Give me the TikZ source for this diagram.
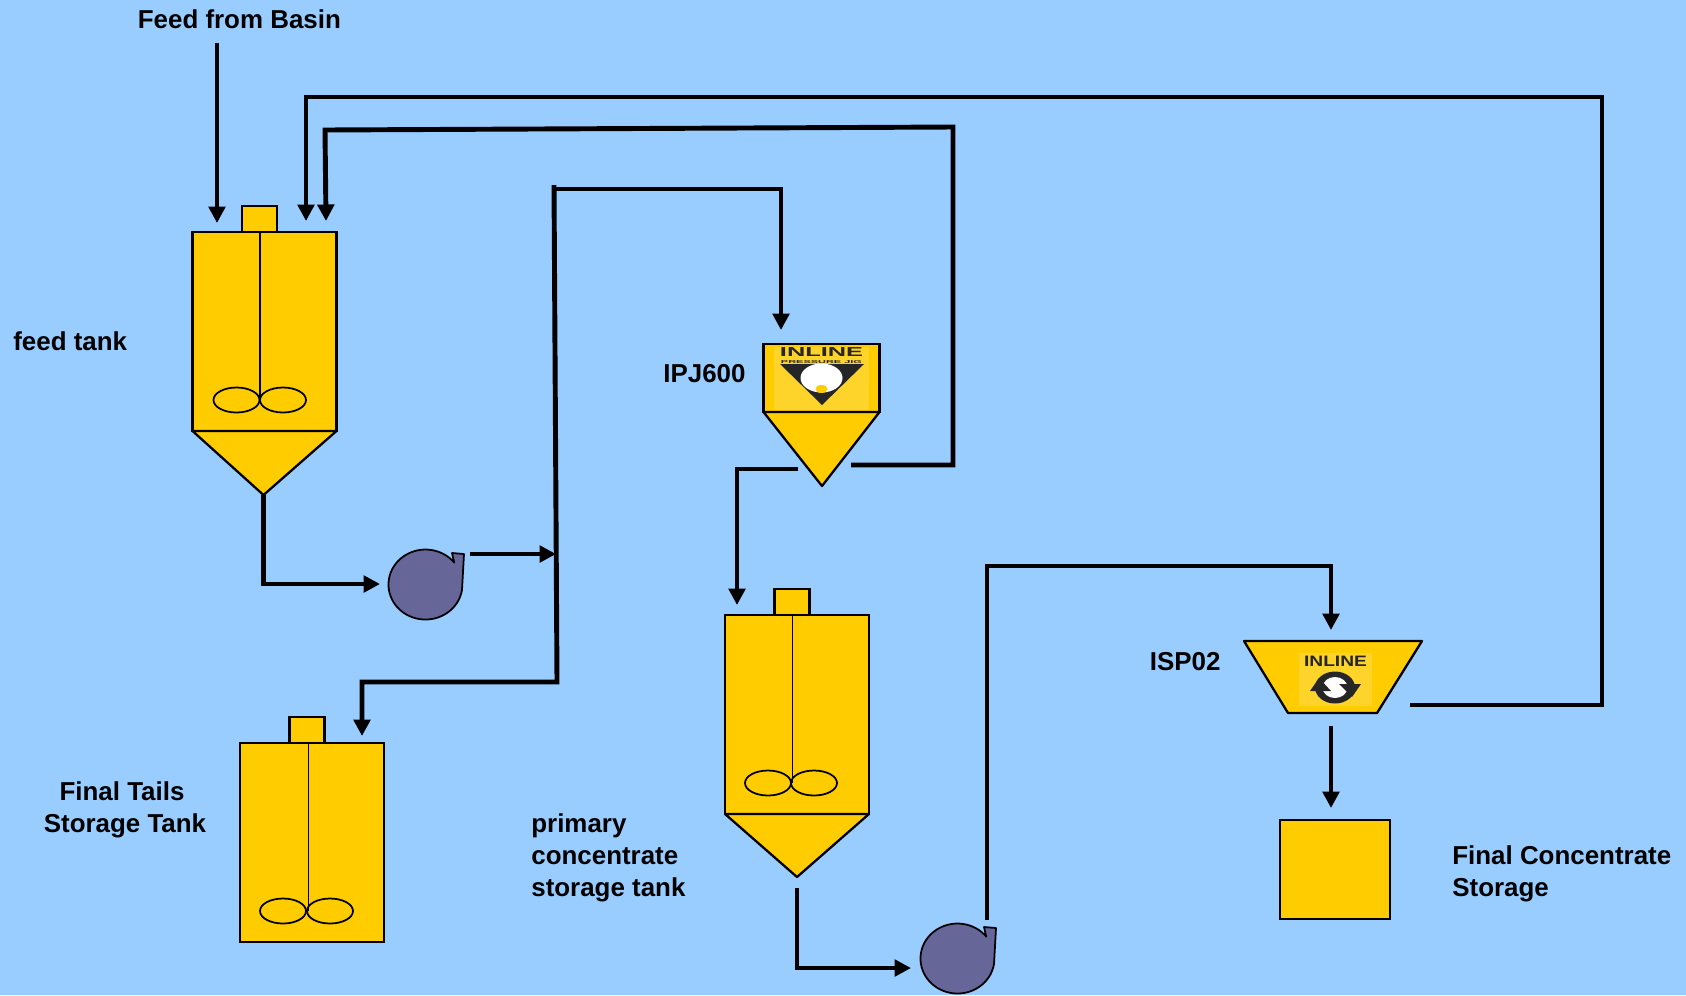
\documentclass[tikz,border=0pt]{standalone}
\usepackage{fontspec}
\setmainfont{Liberation Sans}
\usepackage{xcolor}
\usetikzlibrary{arrows.meta,positioning,calc,shapes.geometric}

\definecolor{skyback}{HTML}{99CCFF}
\definecolor{tankyellow}{HTML}{FFCC00}
\definecolor{logoyellow}{HTML}{FFD42A}
\definecolor{pumppurple}{HTML}{666699}

\begin{document}
\begin{tikzpicture}[
  x=0.02cm, y=-0.02cm,
  tank/.style={draw, fill=tankyellow, line width=1.3pt, outer sep=0pt, minimum width=2.88cm, minimum height=3.98cm},
  lid/.style={draw, fill=tankyellow, line width=1.3pt, outer sep=0pt, minimum width=0.7cm, minimum height=0.52cm},
  impeller/.style={draw, ellipse, line width=1pt, inner sep=0pt, minimum width=0.92cm, minimum height=0.5cm},
  shell/.style={draw, fill=tankyellow, line width=1.3pt, line join=round},
  shaft/.style={draw, line width=1pt},
  flow/.style={-{Triangle[length=0.33cm,width=0.33cm]}, line width=2.8pt},
  lbl/.style={font=\fontsize{14.75}{18.3}\selectfont\bfseries, inner sep=0pt, align=left, anchor=west},
  pump/.pic={
    \node[circle, minimum size=1.4cm, inner sep=0pt, outer sep=0pt] (-body) at (0,0) {};
    \draw[fill=pumppurple, line width=1pt, line join=round] (37,6)
      arc[start angle=-9, delta angle=-312, x radius=0.74cm, y radius=0.7cm]
      -- (27,-31) -- (39,-30) -- cycle;
  }
]
\fill[skyback] (0,0) rectangle (1686,995);
\useasboundingbox (0,0) rectangle (1686,995);

% feed tank
\node[tank] (feed) at (264.5,331.5) {};
\node[lid, above=0pt of feed.north, xshift=-0.1cm] (feedlid) {};
\coordinate (feedapex) at (263.5,495);
\draw[shell] (feed.south west) -- (feed.south east) -- (feedapex) -- cycle;
\node[impeller] (feedimpa) at (236.5,400) {};
\node[impeller] (feedimpb) at (283,400) {};
\draw[shaft] (feed.north-|feedlid.south) ++(0.5,0) -- ++(0,168);

% final tails tank
\node[tank] (tails) at (312,842.5) {};
\node[lid, above=0pt of tails.north, xshift=-0.1cm] (tailslid) {};
\node[impeller] (tailsimpa) at (283,911) {};
\node[impeller] (tailsimpb) at (330,911) {};
\draw[shaft] (tails.north-|tailslid.south) ++(1.5,0) -- ++(0,168);

% primary concentrate tank
\node[tank] (prim) at (797,714.5) {};
\node[lid, above=0pt of prim.north, xshift=-0.1cm] (primlid) {};
\coordinate (primapex) at (797,877);
\draw[shell] (prim.south west) -- (prim.south east) -- (primapex) -- cycle;
\node[impeller] (primimpa) at (768,783) {};
\node[impeller] (primimpb) at (814,783) {};
\draw[shaft] (prim.north-|primlid.south) ++(0.5,0) -- ++(0,168);

% final concentrate storage
\node[draw, fill=tankyellow, line width=1.3pt, outer sep=0pt, minimum width=2.2cm, minimum height=1.98cm] (store) at (1335,869.5) {};

% pumps
\pic (pumpa) at (425,584) {pump};
\pic (pumpb) at (957,958) {pump};

% IPJ600
\node[draw, fill=tankyellow, line width=1.3pt, outer sep=0pt, minimum width=2.32cm, minimum height=1.36cm] (jig) at (821.5,378) {};
\coordinate (jigapex) at (822,486);
\draw[shell] (jig.south west) -- (jig.south east) -- (jigapex) -- cycle;
\node[fill=logoyellow, inner sep=0pt, minimum width=1.9cm, minimum height=1.26cm] (jiglogo) at (821.5,378) {};
\fill[black!85] (780,364) -- (864,364) -- (822,405) -- cycle;
\node[ellipse, fill=white, inner sep=0pt, minimum width=0.84cm, minimum height=0.58cm] (jigwhite) at (821.5,378) {};
\node[ellipse, fill=tankyellow, inner sep=0pt, minimum width=0.24cm, minimum height=0.16cm] (jigdot) at (821.5,389) {};
\node[font=\fontsize{7.4}{7.4}\selectfont\bfseries, inner sep=0pt, xscale=1.95, black!85] (jigname) at (821.5,352.5) {INLINE};
\node[font=\fontsize{2.4}{2.4}\selectfont\bfseries, inner sep=0pt, xscale=2.6, black!85] (jigsub) at (821.5,362) {PRESSURE JIG};

% ISP02
\coordinate (ispa) at (1244,641);
\coordinate (ispb) at (1422,641);
\coordinate (ispc) at (1377,713);
\coordinate (ispd) at (1288,713);
\draw[shell] (ispa) -- (ispb) -- (ispc) -- (ispd) -- cycle;
\node[fill=logoyellow, inner sep=0pt, minimum width=1.46cm, minimum height=1.06cm] (isplogo) at (1335.5,679.5) {};
\node[font=\fontsize{8.6}{8.6}\selectfont\bfseries, inner sep=0pt, xscale=1.27, black!85] (ispname) at (1335.5,661.5) {INLINE};
\node[ellipse, fill=black!85, inner sep=0pt, minimum width=0.8cm, minimum height=0.64cm] (ispring) at (1335,687.5) {};
\node[ellipse, fill=white, inner sep=0pt, minimum width=0.5cm, minimum height=0.42cm] (ispwhite) at (1335,687.5) {};
\fill[black!85] (1310,691) -- (1331,691) -- (1319,678) -- cycle;
\fill[black!85] (1361,684) -- (1339,684) -- (1352,697) -- cycle;

% free ends of the connectors
\coordinate (basin) at (217,43);
\coordinate (feedina) at (217,223);
\coordinate (feedinb) at (306,221);
\coordinate (feedinc) at (326,221);
\coordinate (pumpain) at (380,584);
\coordinate (pumpaout) at (470,554);
\coordinate (split) at (556,554);
\coordinate (splittop) at (554,185);
\coordinate (splitrun) at (554,189);
\coordinate (splitlow) at (557,682);
\coordinate (tailsin) at (362,736);
\coordinate (jigin) at (781,330);
\coordinate (jigleft) at (798,469);
\coordinate (primin) at (737,605);
\coordinate (jigright) at (851,465);
\coordinate (jigturn) at (953,465);
\coordinate (jigtop) at (953,127);
\coordinate (feedturn) at (325,130);
\coordinate (primout) at (797,888);
\coordinate (pumpbin) at (911,968);
\coordinate (pumpbout) at (987,920);
\coordinate (ispturn) at (987,566);
\coordinate (ispin) at (1331,630);
\coordinate (ispout) at (1331,726);
\coordinate (storein) at (1331,808);
\coordinate (ispright) at (1410,705);
\coordinate (farright) at (1602,705);
\coordinate (fartop) at (1602,97);
\coordinate (farleft) at (306,97);

% connectors
\draw[flow] (basin) -- (feedina);
\draw[flow] (ispright) -- (farright) -- (fartop) -- (farleft) -- (feedinb);
\draw[flow] (jigright) -- (jigturn) -- (jigtop) -- (feedturn) -- (feedinc);
\draw[flow] (feedapex) |- (pumpain);
\draw[flow] (pumpaout) -- (split);
\draw[flow] (splittop) -- (splitlow) -| (tailsin);
\draw[flow] (splitrun) -| (jigin);
\draw[flow] (jigleft) -| (primin);
\draw[flow] (primout) |- (pumpbin);
\draw[flow] (pumpbout) |- (ispturn) -| (ispin);
\draw[flow] (ispout) -- (storein);

% labels
\node[lbl] (lblbasin) at (137.5,19) {Feed from Basin};
\node[lbl] (lblfeed) at (13,341) {feed tank};
\node[lbl, align=center, anchor=center] (lbltails) at (125,810) {Final Tails\hspace*{0.12cm}\\Storage Tank};
\node[lbl] (lbljig) at (663,374) {IPJ600};
\node[lbl] (lblprim) at (531,858) {primary\\concentrate\\storage tank};
\node[lbl] (lblisp) at (1149.5,662) {ISP02};
\node[lbl] (lblstore) at (1452,874) {Final Concentrate\\Storage};
\end{tikzpicture}
\end{document}
